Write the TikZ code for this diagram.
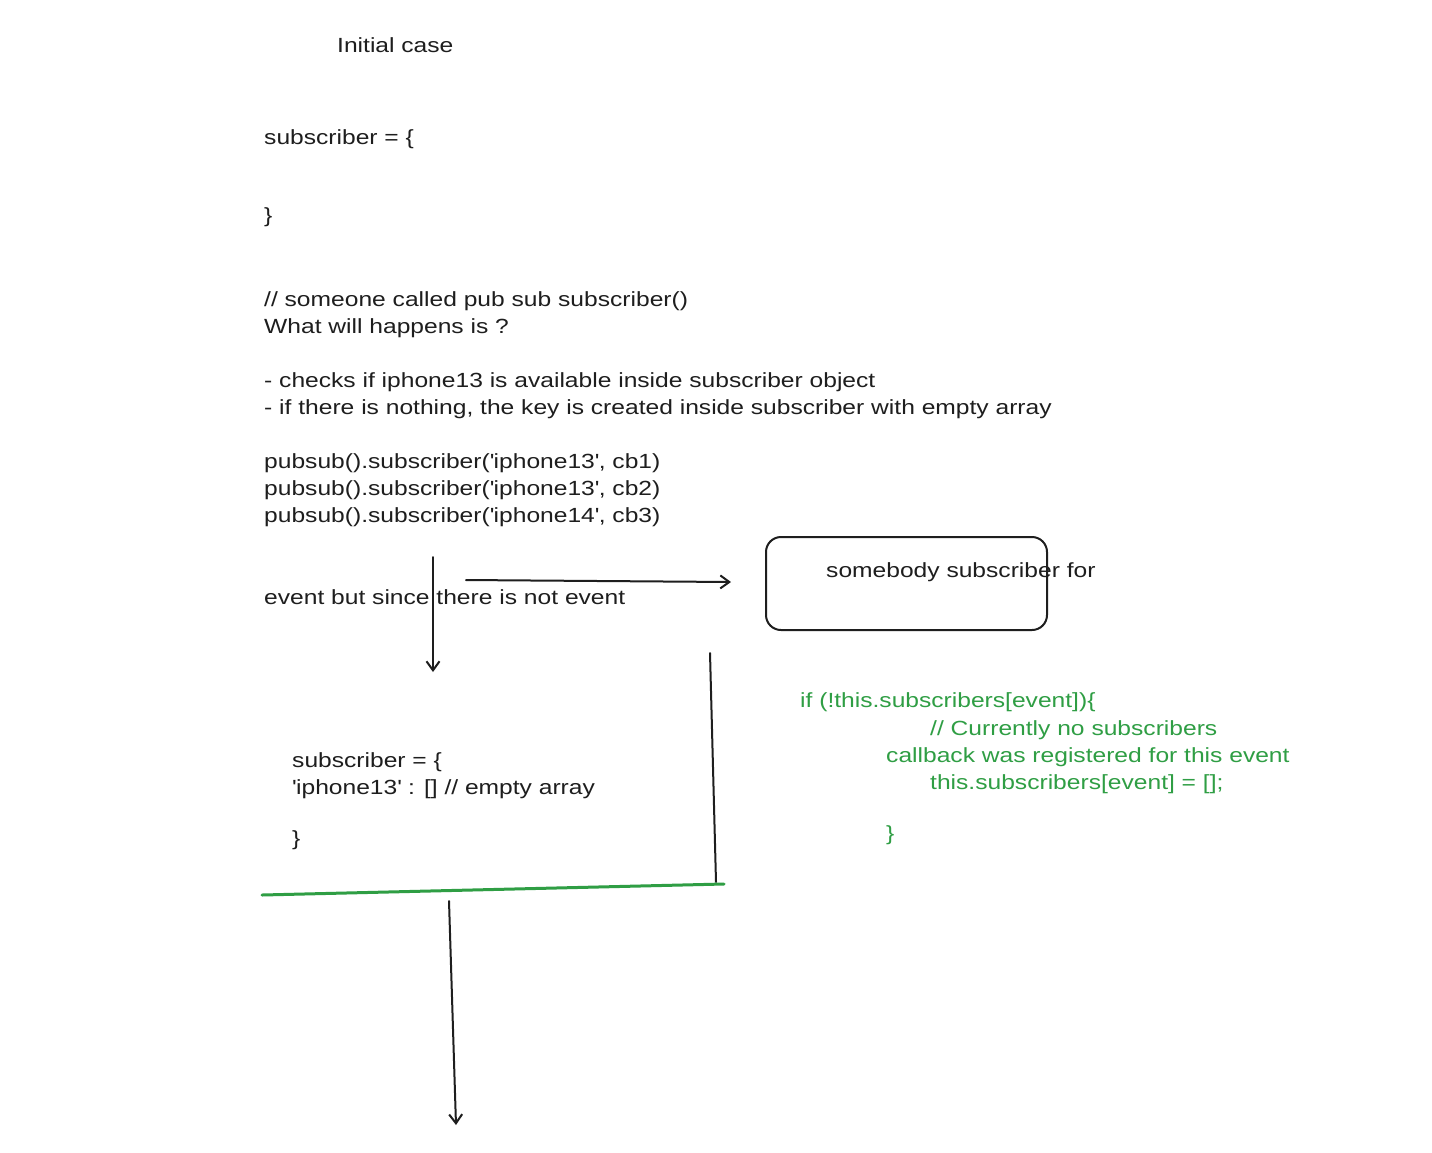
\documentclass[tikz,border=0pt]{standalone}
\usepackage{fontspec}
\setmainfont{Liberation Sans}[FakeStretch=1.2]
\usetikzlibrary{arrows.meta}
\definecolor{ink}{HTML}{1E1E1E}
\definecolor{exgreen}{HTML}{2F9E44}
\begin{document}
\begin{tikzpicture}[x=1pt,y=-1pt,
  txt/.style={anchor=base west, inner sep=0pt, text=ink, font=\fontsize{20.5}{27}\selectfont},
  gtxt/.style={txt, text=exgreen},
  conn/.style={draw=ink, line width=2pt, line cap=round},
  arr/.style={conn, -{Straight Barb[length=9pt,width=13pt,line width=2pt]}},
  boxstyle/.style={draw=ink, line width=2pt, rounded corners=15pt, minimum width=281pt, minimum height=93pt, inner sep=0pt},
  greenline/.style={draw=exgreen, line width=3pt, line cap=round}]
\useasboundingbox[fill=white] (0,0) rectangle (1432,1152);

\node[txt] (title) at (337,52) {Initial case};
\node[txt] (s1) at (264,144) {subscriber = \{};
\node[txt] (s2) at (264,222) {\}};

\node[txt] (l1) at (264,306) {// someone called pub sub subscriber()};
\node[txt] (l2) at (264,333) {What will happens is ?};
\node[txt] (l3) at (264,387) {- checks if iphone13 is available inside subscriber object};
\node[txt] (l4) at (264,414) {- if there is nothing, the key is created inside subscriber with empty array};
\node[txt] (l5) at (264,468) {pubsub().subscriber(\textquotesingle iphone13\textquotesingle, cb1)};
\node[txt] (l6) at (264,495) {pubsub().subscriber(\textquotesingle iphone13\textquotesingle, cb2)};
\node[txt] (l7) at (264,522) {pubsub().subscriber(\textquotesingle iphone14\textquotesingle, cb3)};

\node[txt] (ev) at (264,604) {event but since there is not event};

\node[boxstyle] (box) at (906.5,583.5) {};
\node[txt] (boxtxt) at (826,577) {somebody subscriber for};

\coordinate (va) at (433,557);
\coordinate (vb) at (433,672);
\draw[arr] (va) -- (vb);

\coordinate (ha) at (466,580);
\coordinate (hb) at (731,582);
\draw[arr] (ha) -- (hb);

\coordinate (la) at (710,653);
\coordinate (lb) at (716,882);
\draw[conn] (la) -- (lb);

\coordinate (ga) at (262,895);
\coordinate (gb) at (724,884);
\draw[greenline] (ga) -- (gb);

\node[txt] (r1) at (292,767) {subscriber = \{};
\node[txt] (r2) at (292,794) {\textquotesingle iphone13\textquotesingle\ : [] // empty array};
\node[txt] (r3) at (292,845) {\}};

\node[gtxt] (g1) at (800,707) {if (!this.subscribers[event])\{};
\node[gtxt] (g2) at (930,735) {// Currently no subscribers};
\node[gtxt] (g3) at (886,762) {callback was registered for this event};
\node[gtxt] (g4) at (930,789) {this.subscribers[event] = [];};
\node[gtxt] (g5) at (886,840) {\}};

\coordinate (ba) at (449,901);
\coordinate (bb) at (456,1125);
\draw[arr] (ba) -- (bb);
\end{tikzpicture}
\end{document}
